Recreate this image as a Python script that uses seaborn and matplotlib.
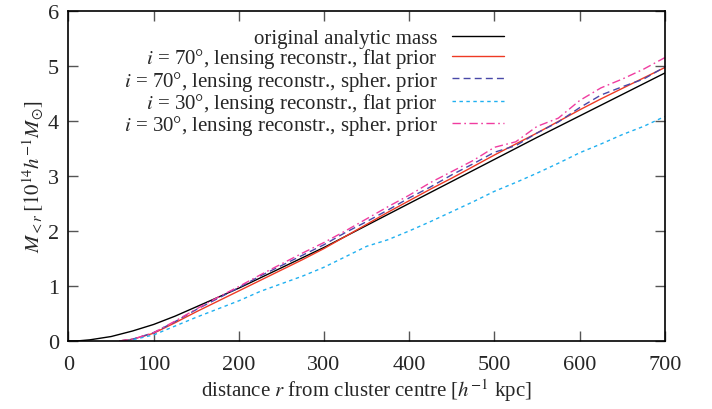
import numpy as np
import pandas as pd
import matplotlib
matplotlib.use("Agg")
import matplotlib.pyplot as plt
import seaborn as sns

# ── Data ──────────────────────────────────────────────────
r_analytic = [0, 10, 25, 50, 75, 100, 125, 150, 175, 200, 250, 300, 350,
              400, 450, 500, 550, 600, 650, 700]
m_analytic = [0, 0.0, 0.02, 0.08, 0.18, 0.30, 0.45, 0.62, 0.79, 0.96, 1.33,
              1.70, 2.10, 2.50, 2.90, 3.30, 3.70, 4.09, 4.48, 4.87]

r_recon = [60, 75, 100, 125, 150, 175, 200, 225, 250, 275, 300, 325, 350,
           375, 400, 425, 450, 475, 500, 525, 550, 575, 600, 625, 650, 675, 700]
m_i70_flat = [0, 0.03, 0.14, 0.33, 0.53, 0.72, 0.91, 1.10, 1.29, 1.48, 1.68,
              1.90, 2.12, 2.34, 2.55, 2.76, 2.96, 3.17, 3.38, 3.58, 3.78,
              3.99, 4.20, 4.40, 4.59, 4.78, 4.97]
m_i70_spher = [0, 0.03, 0.15, 0.35, 0.57, 0.77, 0.97, 1.18, 1.37, 1.56, 1.75,
               1.97, 2.17, 2.38, 2.60, 2.80, 3.02, 3.22, 3.43, 3.55, 3.78,
               3.98, 4.24, 4.47, 4.62, 4.76, 4.98]
m_i30_flat = [0, 0.02, 0.11, 0.27, 0.43, 0.58, 0.73, 0.90, 1.04, 1.18, 1.34,
              1.53, 1.72, 1.84, 2.00, 2.17, 2.35, 2.53, 2.72, 2.88, 3.05,
              3.23, 3.42, 3.58, 3.75, 3.90, 4.08]
m_i30_spher = [0, 0.03, 0.15, 0.36, 0.58, 0.79, 0.99, 1.20, 1.40, 1.60, 1.79,
               2.00, 2.22, 2.44, 2.65, 2.88, 3.08, 3.28, 3.52, 3.62, 3.90,
               4.05, 4.37, 4.60, 4.76, 4.94, 5.15]

labels = [
    "original analytic mass",
    "$i$ = 70°, lensing reconstr., flat prior",
    "$i$ = 70°, lensing reconstr., spher. prior",
    "$i$ = 30°, lensing reconstr., flat prior",
    "$i$ = 30°, lensing reconstr., spher. prior",
]
x_ticks = [0, 100, 200, 300, 400, 500, 600, 700]
y_ticks = [0, 1, 2, 3, 4, 5, 6]

# ── Style ─────────────────────────────────────────────────
sns.set_style("ticks")
plt.rcParams["font.family"] = ["Liberation Serif", "DejaVu Serif"]
plt.rcParams["mathtext.fontset"] = "stix"
plt.rcParams["font.size"] = 15

series = [
    (r_analytic, m_analytic, "#000000", (None, None)),
    (r_recon, m_i70_flat, "#ee3a24", (None, None)),
    (r_recon, m_i70_spher, "#4848a8", (5, 3)),
    (r_recon, m_i30_flat, "#20b0f0", (2.5, 2.5)),
    (r_recon, m_i30_spher, "#f03ca0", (6, 2.5, 1.2, 2.5)),
]

fig = plt.figure(figsize=(7.12, 4.10), dpi=100)
ax = fig.add_axes([0.0962, 0.166, 0.8375, 0.805])

for (xs, ys, col, dash), lab in zip(series, labels):
    df = pd.DataFrame({"r": xs, "M": ys})
    sns.lineplot(data=df, x="r", y="M", color=col, lw=1.0, label=lab, ax=ax)
    if dash[0] is not None:
        ax.lines[-1].set_dashes(dash)

ax.set_xlim(0, 700)
ax.set_ylim(0, 6)
ax.set_xticks(x_ticks)
ax.set_yticks(y_ticks)
ax.tick_params(direction="in", length=7, width=1, color="#555555",
               top=True, right=True, labelsize=16)
ax.tick_params(axis="x", pad=10)
ax.tick_params(axis="y", pad=7)
for s in ax.spines.values():
    s.set_linewidth(1.2)
    s.set_color("black")

ax.set_xlabel(r"distance $r$ from cluster centre [$h^{-1}$ kpc]", fontsize=15,
              labelpad=2)
ax.set_ylabel(r"$M_{<r}\,[10^{14}h^{-1}M_{\odot}]$", fontsize=15, labelpad=1)

leg = ax.legend(loc="upper right", bbox_to_anchor=(0.745, 0.972),
                frameon=False, markerfirst=False, handlelength=2.5,
                handletextpad=0.7, labelspacing=-0.08, fontsize=15,
                borderaxespad=0)

fig.savefig("out.png", dpi=100)
